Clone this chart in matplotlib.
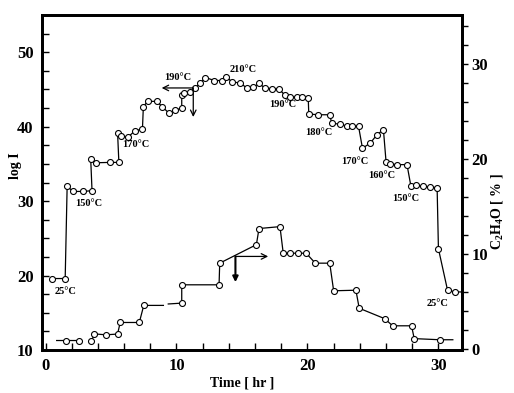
import numpy as np
import matplotlib
matplotlib.use("Agg")
import matplotlib.pyplot as plt

nan = np.nan

# Upper curve: log I (left axis)
upper_t = [0.5, 1.5, 1.65, 2.1, 2.85, 3.55, 3.45, 3.83, 4.9, 5.6,
           5.5, 5.74, 6.3, 6.8, 7.4, 7.47, 7.8, 8.5, 8.9, 9.43,
           9.9, 10.4, 10.4, 10.6, 11.0, 11.4, 11.8, 12.2, 12.9, 13.45,
           13.8, 14.26, 14.85, 15.36, 15.86, 16.3, 16.75, 17.3, 17.8, 18.3,
           18.7, 19.2, 19.56, 20.06, 20.1, 20.8, 21.7, 21.85, 22.5, 23.0,
           23.4, 23.9, 24.2, 24.8, 25.3, 25.8, 26.0, 26.3, 26.8, 27.6,
           27.9, 28.3, 28.8, 29.35, 29.9, 30.0, 30.7, 31.3, 31.95]
upper_v = [19.6, 19.6, 32.0, 31.3, 31.3, 31.4, 35.6, 35.15, 35.2, 35.2,
           39.2, 38.7, 38.6, 39.4, 39.7, 42.7, 43.4, 43.4, 42.7, 41.8,
           42.2, 42.5, 44.2, 44.55, 44.6, 45.2, 45.8, 46.6, 46.2, 46.2,
           46.7, 45.97, 45.9, 45.2, 45.3, 45.8, 45.2, 45.1, 45.1, 44.2,
           44.0, 44.0, 44.0, 43.8, 41.7, 41.6, 41.6, 40.5, 40.3, 40.1,
           40.1, 40.05, 37.1, 37.8, 38.9, 39.6, 35.3, 35.0, 34.9, 34.9,
           32.0, 32.1, 32.0, 31.9, 31.8, 23.6, 18.0, 17.8, 17.8]

# Lower curve: C2H4O [%] (right axis)
lower_t = [0.85, 1.56, 2.58, nan, 3.5, 3.73, 4.6, 5.5, 5.7, 7.16,
           7.5, 9.0, nan, 9.37, 10.4, 10.4, 13.25, 13.3, 16.1, 16.3,
           17.9, 18.15, 18.7, 19.3, 19.9, 20.6, 21.7, 22.0, 23.7, 23.95,
           25.9, 26.5, 27.95, 28.15, 30.1, 31.1]
lower_v = [0.9, 0.9, 0.9, nan, 0.8, 1.6, 1.5, 1.58, 2.8, 2.8,
           4.6, 4.6, nan, 4.75, 4.84, 6.77, 6.77, 9.05, 11.0, 12.7,
           12.9, 10.1, 10.1, 10.1, 10.1, 9.05, 9.05, 6.14, 6.2, 4.3,
           3.2, 2.45, 2.45, 1.1, 0.98, 0.98]
lower_nomarker = [0, 3, 11, 12, 13, 35]

# Temperature labels (x, log I position)
temp_labels = ["25°C", "150°C", "170°C", "190°C", "210°C", "190°C",
               "180°C", "170°C", "160°C", "150°C", "25°C"]
temp_x = [1.56, 3.32, 6.91, 10.1, 15.08, 18.13, 20.88, 23.6, 25.7, 27.5, 29.9]
temp_y = [17.9, 29.7, 37.6, 46.6, 47.7, 43.0, 39.2, 35.3, 33.4, 30.3, 16.3]

FONT = "Liberation Serif"
plt.rcParams["mathtext.fontset"] = "custom"
plt.rcParams["mathtext.bf"] = "Liberation Serif:bold"
plt.rcParams["mathtext.rm"] = "Liberation Serif:bold"

fig = plt.figure(figsize=(5.14, 3.93), dpi=100)
ax = fig.add_axes([42/514, 1-350/393, (462-42)/514, (350-15)/393])
ax2 = ax.twinx()

ax.plot(upper_t, upper_v, color="black", lw=0.9, marker="o", ms=4.3,
        mfc="white", mec="black", mew=0.8)
mk = [i for i in range(len(lower_t)) if i not in lower_nomarker]
ax2.plot(lower_t, lower_v, color="black", lw=0.9, marker="o", ms=4.3,
         mfc="white", mec="black", mew=0.8, markevery=mk)

ax.set_xlim(-0.27, 31.8)
ax.set_ylim(10, 55)
ax2.set_ylim(-0.1, 35.2)

ax.set_xticks([0, 10, 20, 30])
ax.set_xticks(np.arange(0, 32, 2), minor=True)
ax.set_yticks([10, 20, 30, 40, 50])
ax.set_yticks(np.arange(10, 55.1, 2.5), minor=True)
ax2.set_yticks([0, 10, 20, 30])
ax2.set_yticks(np.arange(0, 35.1, 2), minor=True)

ax.tick_params(axis="both", which="both", direction="in", length=5, width=1,
               top=False, right=False)
ax.tick_params(axis="y", which="major", pad=6)
ax.tick_params(axis="x", which="major", pad=6)
ax2.tick_params(axis="y", which="both", direction="out", length=4, width=1, pad=3)

for a in (ax, ax2):
    for s in a.spines.values():
        s.set_linewidth(2)
    for lab in a.get_xticklabels() + a.get_yticklabels():
        lab.set_fontfamily(FONT)
        lab.set_fontweight("bold")
        lab.set_fontsize(12)

for lab, x, y in zip(temp_labels, temp_x, temp_y):
    ax.text(x, y, lab, ha="center", va="center", fontsize=7.5,
            fontweight="bold", family=FONT)

# Arrows on upper curve
ax.annotate("", xy=(8.87, 45.2), xytext=(11.28, 45.2),
            arrowprops=dict(arrowstyle="->", lw=0.9, color="black",
                            shrinkA=0, shrinkB=0))
ax.annotate("", xy=(11.28, 41.3), xytext=(11.28, 45.2),
            arrowprops=dict(arrowstyle="->", lw=0.9, color="black",
                            shrinkA=0, shrinkB=0))
# Arrows on lower curve
ax2.annotate("", xy=(14.5, 7.05), xytext=(14.5, 9.76),
             arrowprops=dict(arrowstyle="-|>", lw=1.5, color="black",
                             mutation_scale=8, shrinkA=0, shrinkB=0))
ax2.annotate("", xy=(17.0, 9.76), xytext=(14.5, 9.76),
             arrowprops=dict(arrowstyle="->", lw=0.9, color="black",
                             shrinkA=0, shrinkB=0))

fig.text(242/514, 1-383/393, "Time [ hr ]", ha="center", va="center",
         fontsize=10, fontweight="bold", family=FONT)
fig.text(15/514, 1-166/393, "log I", ha="center", va="center", rotation=90,
         fontsize=10, fontweight="bold", family=FONT)
fig.text(497/514, 1-212/393, r"C$_\mathbf{2}$H$_\mathbf{4}$O [ % ]", ha="center",
         va="center", rotation=90, fontsize=10, fontweight="bold", family=FONT)

fig.savefig("out.png", dpi=100)
